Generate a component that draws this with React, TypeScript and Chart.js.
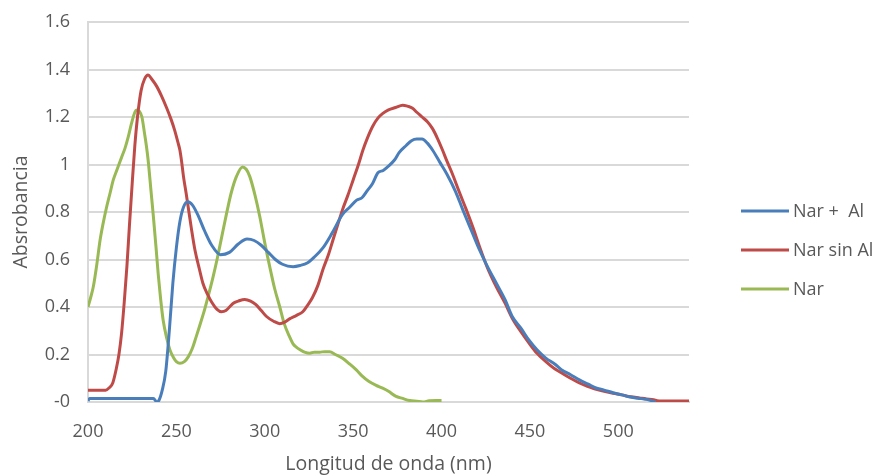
import React, { useEffect, useRef } from "react";
import { Chart, registerables } from "chart.js";

Chart.register(...registerables);

const seriesLabels = ["Nar +  Al", "Nar sin Al", "Nar"];
const seriesColors = ["#4A7EBB", "#BE4B48", "#98B954"];

const blueX = [200, 201, 237, 239, 240, 242, 244, 246, 248, 250, 252, 254, 256.5, 259, 262, 266, 270, 275, 280, 285, 290, 294, 298, 302, 306, 310, 316, 320, 324, 328, 333, 338, 344, 348, 352, 355, 358, 361, 364, 367, 369.5, 373.5, 376, 380, 383, 386, 389, 392, 395, 399, 403, 408, 412, 417, 421.5, 426, 431, 436, 440, 445, 449.5, 454, 459, 464, 468, 473, 478, 483, 487, 492, 497, 502, 506, 511, 516, 519, 521];
const blueY = [0.005, 0.015, 0.015, 0.0, 0.005, 0.05, 0.13, 0.3, 0.5, 0.65, 0.76, 0.82, 0.843, 0.83, 0.79, 0.72, 0.66, 0.62, 0.63, 0.665, 0.686, 0.68, 0.66, 0.63, 0.6, 0.58, 0.57, 0.575, 0.585, 0.61, 0.65, 0.71, 0.79, 0.82, 0.85, 0.86, 0.89, 0.92, 0.965, 0.975, 0.99, 1.02, 1.05, 1.08, 1.1, 1.107, 1.107, 1.09, 1.06, 1.01, 0.96, 0.885, 0.81, 0.72, 0.64, 0.57, 0.5, 0.43, 0.36, 0.31, 0.26, 0.22, 0.185, 0.16, 0.135, 0.115, 0.093, 0.075, 0.06, 0.05, 0.039, 0.03, 0.022, 0.016, 0.011, 0.005, 0.0];

const redX = [200, 210, 212, 214, 216, 217.5, 219, 220.5, 222, 223.5, 225, 226.5, 228, 230, 232, 234, 236, 238.8, 241.5, 244.4, 247, 249, 251, 252, 253, 254, 255.5, 256.7, 258.5, 260.5, 263, 265, 267.5, 270, 273, 275.5, 278, 282, 285, 288.7, 292, 295, 298, 301, 305, 308.5, 311, 314, 318, 321.5, 324, 327, 330, 333, 336, 338.5, 341, 344, 347, 350, 353, 355.5, 358, 361, 364, 366.8, 370, 374, 378, 381, 383.6, 386, 389, 392, 395, 398, 400.6, 403, 406, 410, 414, 418, 421.5, 426, 431, 436, 440, 445, 449.5, 454, 459, 464, 468, 473, 478, 483, 487, 492, 497, 502, 507, 512, 516, 520, 522, 525, 540];
const redY = [0.05, 0.05, 0.06, 0.08, 0.14, 0.2, 0.29, 0.42, 0.57, 0.75, 0.92, 1.08, 1.2, 1.31, 1.36, 1.377, 1.36, 1.33, 1.29, 1.24, 1.19, 1.145, 1.09, 1.06, 1.01, 0.95, 0.88, 0.82, 0.73, 0.64, 0.56, 0.5, 0.455, 0.42, 0.39, 0.38, 0.385, 0.415, 0.425, 0.432, 0.425, 0.41, 0.385, 0.36, 0.34, 0.33, 0.335, 0.35, 0.365, 0.38, 0.405, 0.44, 0.49, 0.56, 0.62, 0.68, 0.74, 0.81, 0.87, 0.935, 1.0, 1.06, 1.11, 1.16, 1.195, 1.215, 1.23, 1.24, 1.25, 1.245, 1.237, 1.22, 1.2, 1.18, 1.15, 1.105, 1.06, 1.015, 0.963, 0.885, 0.81, 0.73, 0.654, 0.565, 0.485, 0.415, 0.353, 0.295, 0.248, 0.205, 0.17, 0.14, 0.122, 0.1, 0.08, 0.065, 0.054, 0.045, 0.037, 0.03, 0.022, 0.017, 0.013, 0.01, 0.005, 0.004, 0.004];

const greenX = [200, 201.5, 203, 205, 206.8, 208.5, 210.5, 212.5, 214.3, 216.5, 219, 221, 222.8, 224.5, 226.5, 227.5, 229, 230.5, 232, 233, 234, 235.5, 237, 238.5, 239.7, 241, 242.5, 244.5, 246.3, 248.5, 250, 252, 254.5, 256.7, 259, 261, 263, 266, 268.5, 270.8, 273, 275.5, 278.4, 281, 284, 287.4, 289.5, 291.5, 294.5, 297.2, 300, 302.8, 305.5, 308.5, 311, 314, 316, 318, 320, 322.5, 325.5, 328, 331, 334, 336.7, 340, 344, 348, 351.8, 355, 359, 363, 366.7, 370, 374, 378, 382, 386, 389.5, 393, 397, 400];
const greenY = [0.4, 0.44, 0.485, 0.58, 0.68, 0.75, 0.82, 0.88, 0.935, 0.98, 1.03, 1.07, 1.117, 1.17, 1.22, 1.23, 1.225, 1.2, 1.13, 1.08, 1.02, 0.9, 0.78, 0.65, 0.54, 0.44, 0.345, 0.27, 0.22, 0.185, 0.17, 0.163, 0.17, 0.19, 0.225, 0.27, 0.317, 0.39, 0.46, 0.528, 0.6, 0.69, 0.794, 0.88, 0.95, 0.99, 0.98, 0.95, 0.87, 0.78, 0.67, 0.57, 0.48, 0.4, 0.33, 0.275, 0.245, 0.23, 0.22, 0.21, 0.205, 0.21, 0.21, 0.212, 0.212, 0.2, 0.184, 0.16, 0.135, 0.11, 0.086, 0.07, 0.058, 0.045, 0.025, 0.015, 0.006, 0.003, 0.0, 0.005, 0.006, 0.006];

const xTickValues = [200, 250, 300, 350, 400, 450, 500];
const yTickValues = [0, 0.2, 0.4, 0.6, 0.8, 1, 1.2, 1.4, 1.6];
const yTickLabels = ["-0", "0.2", "0.4", "0.6", "0.8", "1", "1.2", "1.4", "1.6"];

const xTitle = "Longitud de onda (nm)";
const yTitle = "Absrobancia";

const FONT = "'Open Sans', 'Liberation Sans', sans-serif";
const TEXT = "#595959";
const GRID = "#D9D9D9";

const legendPlugin = {
  id: "sideLegend",
  afterDraw(chart: any) {
    const ctx = chart.ctx;
    const area = chart.chartArea;
    const x0 = area.right + 52;
    const yStart = 211;
    const gap = 39;
    ctx.save();
    ctx.font = `18px ${FONT}`;
    ctx.textBaseline = "middle";
    ctx.textAlign = "left";
    chart.data.datasets.forEach((ds: any, i: number) => {
      const y = yStart + i * gap;
      ctx.strokeStyle = ds.borderColor;
      ctx.lineWidth = 3;
      ctx.beginPath();
      ctx.moveTo(x0, y);
      ctx.lineTo(x0 + 48, y);
      ctx.stroke();
      ctx.fillStyle = TEXT;
      ctx.fillText(ds.label, x0 + 52, y + 1);
    });
    ctx.restore();
  },
};

function toPoints(xs: number[], ys: number[]) {
  return xs.map((x, i) => ({ x, y: ys[i] }));
}

export default function App() {
  const ref = useRef<HTMLCanvasElement | null>(null);
  useEffect(() => {
    if (!ref.current) return;
    const series = [
      [blueX, blueY],
      [redX, redY],
      [greenX, greenY],
    ];
    const chart = new Chart(ref.current, {
      type: "line",
      data: {
        datasets: series.map(([xs, ys], i) => ({
          label: seriesLabels[i],
          data: toPoints(xs, ys),
          borderColor: seriesColors[i],
          backgroundColor: seriesColors[i],
          borderWidth: 3,
          pointRadius: 0,
          cubicInterpolationMode: "monotone" as const,
          fill: false,
        })),
      },
      options: {
        responsive: false,
        animation: false,
        layout: { padding: { top: 22, right: 189, left: 0, bottom: 0 } },
        plugins: { legend: { display: false }, tooltip: { enabled: false } },
        scales: {
          x: {
            type: "linear",
            min: 200,
            max: 540,
            afterBuildTicks: (axis: any) => {
              axis.ticks = xTickValues.map((v) => ({ value: v }));
            },
            afterFit: (axis: any) => {
              axis.height = 74;
              axis.paddingLeft = 0;
              axis.paddingRight = 0;
            },
            grid: { display: false, drawTicks: false },
            border: { display: true, color: GRID, width: 2 },
            ticks: {
              color: TEXT,
              font: { family: FONT, size: 18 },
              padding: 19,
              maxRotation: 0,
              autoSkip: false,
            },
            title: {
              display: true,
              text: xTitle,
              color: TEXT,
              font: { family: FONT, size: 19.5 },
              padding: { top: 0, bottom: 0 },
            },
          },
          y: {
            type: "linear",
            min: 0,
            max: 1.6,
            afterBuildTicks: (axis: any) => {
              axis.ticks = yTickValues.map((v) => ({ value: v }));
            },
            afterFit: (axis: any) => {
              axis.width = 88;
              axis.paddingTop = 0;
              axis.paddingBottom = 0;
            },
            grid: { color: GRID, lineWidth: 2, drawTicks: false },
            border: { display: true, color: GRID, width: 2 },
            ticks: {
              color: TEXT,
              font: { family: FONT, size: 18 },
              padding: 18,
              callback: (v: any) => {
                const idx = yTickValues.findIndex((t) => Math.abs(t - Number(v)) < 1e-9);
                return idx >= 0 ? yTickLabels[idx] : "";
              },
            },
            title: {
              display: true,
              text: yTitle,
              color: TEXT,
              font: { family: FONT, size: 19.5 },
              padding: { top: 10, bottom: 0 },
            },
          },
        },
      },
      plugins: [legendPlugin],
    });
    return () => chart.destroy();
  }, []);

  return (
    <div style={{ position: "fixed", left: 0, top: 0, width: 878, height: 476, background: "#fff" }}>
      <canvas ref={ref} width={878} height={476} />
    </div>
  );
}
